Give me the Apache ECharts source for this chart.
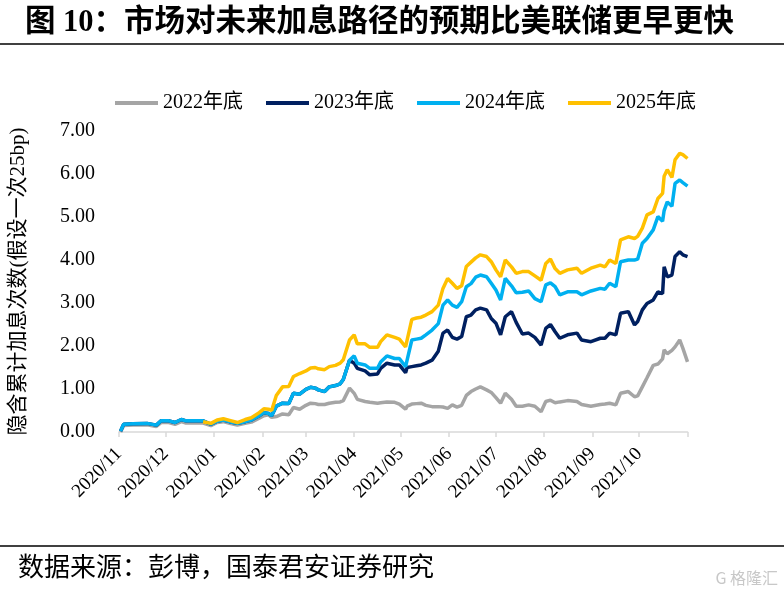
<!DOCTYPE html>
<html><head><meta charset="utf-8">
<script src="https://cdn.jsdelivr.net/npm/echarts@6/dist/echarts.min.js"></script>
<style>html,body{margin:0;padding:0;background:#fff}#c{width:784px;height:595px}</style>
</head><body><div id="c"></div>
<script>
const dates = ['2020-11-02','2020-11-04','2020-11-10','2020-11-19','2020-11-25','2020-11-28','2020-12-03','2020-12-07','2020-12-11','2020-12-14','2020-12-20','2020-12-25','2020-12-30',
'2021-01-03','2021-01-07','2021-01-11','2021-01-16','2021-01-21','2021-01-25','2021-01-30','2021-02-02','2021-02-05','2021-02-07','2021-02-10','2021-02-14','2021-02-18','2021-02-21','2021-02-25',
'2021-03-01','2021-03-04','2021-03-07','2021-03-09','2021-03-13','2021-03-16','2021-03-20','2021-03-23','2021-03-25','2021-03-29','2021-04-01','2021-04-03','2021-04-08','2021-04-11','2021-04-16','2021-04-18','2021-04-22','2021-04-27','2021-04-30',
'2021-05-04','2021-05-05','2021-05-08','2021-05-11','2021-05-14','2021-05-17','2021-05-21','2021-05-25','2021-05-28','2021-05-31','2021-06-03','2021-06-06','2021-06-09','2021-06-12','2021-06-15','2021-06-18','2021-06-21','2021-06-25','2021-06-28',
'2021-07-01','2021-07-04','2021-07-07','2021-07-11','2021-07-14','2021-07-18','2021-07-22','2021-07-26','2021-07-30','2021-08-02','2021-08-05','2021-08-08','2021-08-11','2021-08-16','2021-08-22','2021-08-25','2021-08-31',
'2021-09-06','2021-09-09','2021-09-12','2021-09-16','2021-09-19','2021-09-24','2021-09-28','2021-09-30','2021-10-03','2021-10-06','2021-10-10','2021-10-13','2021-10-16','2021-10-17','2021-10-19','2021-10-22','2021-10-24','2021-10-27','2021-10-29','2021-11-01'];

const y2022 = [0.00,0.15,0.16,0.17,0.13,0.22,0.22,0.18,0.24,0.21,0.21,0.21,0.15,
0.22,0.24,0.20,0.16,0.20,0.23,0.32,0.38,0.40,0.34,0.36,0.42,0.40,0.57,0.53,
0.62,0.67,0.66,0.64,0.64,0.67,0.69,0.70,0.73,1.02,0.90,0.76,0.71,0.69,0.67,0.68,0.70,0.69,0.65,
0.53,0.60,0.65,0.66,0.67,0.62,0.59,0.59,0.58,0.55,0.63,0.58,0.62,0.85,0.94,1.00,1.05,0.98,0.92,
0.80,0.67,0.90,0.76,0.60,0.60,0.63,0.60,0.47,0.71,0.74,0.68,0.70,0.73,0.71,0.64,0.60,
0.64,0.65,0.67,0.63,0.90,0.94,0.82,0.84,1.05,1.26,1.55,1.58,1.70,1.91,1.82,1.90,1.98,2.14,1.95,1.63];

const y2023 = [0.02,0.18,0.19,0.20,0.16,0.26,0.26,0.22,0.29,0.26,0.26,0.26,0.18,
0.25,0.28,0.24,0.20,0.24,0.28,0.38,0.45,0.43,0.38,0.60,0.67,0.66,0.90,0.88,
0.99,1.04,1.02,0.98,0.94,1.05,1.08,1.12,1.22,1.67,1.60,1.48,1.42,1.33,1.35,1.48,1.60,1.56,1.56,
1.38,1.50,1.52,1.54,1.56,1.60,1.67,1.88,2.30,2.37,2.20,2.16,2.22,2.68,2.72,2.84,2.88,2.84,2.64,
2.53,2.26,2.68,2.80,2.55,2.28,2.30,2.20,2.02,2.41,2.50,2.33,2.18,2.26,2.30,2.14,2.10,
2.18,2.18,2.30,2.26,2.76,2.80,2.49,2.57,2.84,2.99,3.07,3.26,3.22,3.84,3.61,3.65,4.08,4.19,4.12,4.08];

const y2024 = [0.02,0.18,0.19,0.20,0.16,0.26,0.26,0.22,0.29,0.26,0.26,0.26,0.18,
0.25,0.28,0.24,0.20,0.24,0.28,0.38,0.45,0.43,0.38,0.60,0.67,0.66,0.90,0.88,
0.99,1.04,1.02,0.98,0.94,1.05,1.08,1.12,1.22,1.67,1.77,1.60,1.56,1.48,1.48,1.63,1.77,1.71,1.71,
1.52,1.56,2.14,2.16,2.18,2.26,2.37,2.52,2.95,3.07,2.95,2.90,3.03,3.38,3.45,3.60,3.65,3.61,3.46,
3.30,3.07,3.57,3.40,3.24,3.25,3.28,3.10,3.03,3.42,3.47,3.38,3.19,3.26,3.26,3.19,3.28,
3.34,3.32,3.46,3.38,3.96,4.00,4.00,4.02,4.39,4.50,4.70,5.01,4.90,5.15,5.35,5.25,5.78,5.86,5.80,5.72];

const y2025 = [null,null,null,null,null,null,null,null,null,null,null,0.24,0.20,
0.28,0.31,0.27,0.22,0.29,0.33,0.45,0.54,0.53,0.50,0.85,1.05,1.06,1.29,1.36,
1.42,1.49,1.50,1.47,1.45,1.52,1.55,1.60,1.68,2.14,2.26,2.05,2.05,1.97,1.97,2.10,2.26,2.20,2.16,
1.98,2.02,2.62,2.65,2.67,2.72,2.80,2.95,3.34,3.57,3.46,3.34,3.40,3.85,3.95,4.05,4.12,4.08,3.96,
3.77,3.61,4.00,3.84,3.69,3.73,3.73,3.63,3.53,3.92,4.02,3.80,3.69,3.77,3.81,3.69,3.81,
3.88,3.84,4.00,3.92,4.47,4.54,4.50,4.55,4.74,5.05,5.12,5.43,5.55,5.95,6.10,5.92,6.33,6.48,6.45,6.36];

const seriesNames = ['2022年底','2023年底','2024年底','2025年底'];
const seriesColors = ['#A5A5A5','#002060','#00B0F0','#FFC000'];
const monthTicks = ['2020-11-01','2020-12-01','2021-01-01','2021-02-01','2021-03-01','2021-04-01','2021-05-01','2021-06-01','2021-07-01','2021-08-01','2021-09-01','2021-10-01','2021-11-01'];
const monthLabels = monthTicks.slice(0, 12);

const ts = s => { const p = s.split('-').map(Number); return Date.UTC(p[0], p[1]-1, p[2]); };
const serif = '"Liberation Serif", "Times New Roman", "Noto Sans CJK SC", serif';

const chart = echarts.init(document.getElementById('c'));
const allData = [y2022, y2023, y2024, y2025];
chart.setOption({
  backgroundColor: '#fff',
  animation: false,
  title: {
    text: '图 10：市场对未来加息路径的预期比美联储更早更快',
    left: 20, top: 3,
    textStyle: { fontFamily: '"Liberation Serif","Noto Sans CJK SC",serif', fontSize: 30.5, fontWeight: 'bold', color: '#000' }
  },
  graphic: [
    { type: 'line', shape: { x1: 0, y1: 44, x2: 784, y2: 44 }, style: { stroke: '#000', lineWidth: 1.5 } },
    { type: 'line', shape: { x1: 0, y1: 546, x2: 784, y2: 546 }, style: { stroke: '#000', lineWidth: 1.5 } },
    { type: 'text', left: 18, top: 553, style: { text: '数据来源：彭博，国泰君安证券研究', fontSize: 26, fontFamily: '"Noto Sans CJK SC",serif', fill: '#000' } },
    { type: 'text', right: 6, top: 570, style: { text: 'G 格隆汇', fontSize: 16, fontFamily: '"Noto Sans CJK SC",sans-serif', fill: '#c8c8c8' } }
  ],
  legend: {
    top: 93, left: 115, padding: 0,
    itemWidth: 43, itemHeight: 4, itemGap: 23, icon: 'rect',
    textStyle: { fontFamily: serif, fontSize: 20, color: '#000' },
    data: seriesNames
  },
  grid: { left: 115, right: 96.5, top: 131, bottom: 163 },
  xAxis: {
    type: 'value',
    min: ts(monthTicks[0]), max: ts(monthTicks[12]),
    axisLine: { show: true, onZero: false, lineStyle: { color: '#d9d9d9', width: 1.5 } },
    axisTick: { show: true, customValues: monthTicks.map(ts), length: 5, lineStyle: { color: '#d9d9d9', width: 1.5 } },
    axisLabel: {
      customValues: monthLabels.map(ts),
      rotate: 45, margin: 19,
      fontFamily: serif, fontSize: 19, color: '#000',
      formatter: v => { const d = new Date(v); return d.getUTCFullYear() + '/' + String(d.getUTCMonth()+1).padStart(2,'0'); }
    },
    splitLine: { show: false }
  },
  yAxis: {
    type: 'value', min: 0, max: 7, interval: 1,
    name: '隐含累计加息次数(假设一次25bp)',
    nameLocation: 'middle', nameGap: 90, nameRotate: 90,
    nameTextStyle: { fontFamily: serif, fontSize: 21, color: '#000' },
    axisLine: { show: false }, axisTick: { show: false },
    splitLine: { show: false },
    axisLabel: { margin: 24, fontFamily: serif, fontSize: 20, color: '#000', formatter: v => v.toFixed(2) }
  },
  series: seriesNames.map((n, i) => ({
    name: n, type: 'line', showSymbol: false, symbol: 'none',
    lineStyle: { width: 3.5, color: seriesColors[i] },
    itemStyle: { color: seriesColors[i] },
    data: dates.map((d, k) => [ts(d), allData[i][k]])
  }))
});
</script></body></html>
